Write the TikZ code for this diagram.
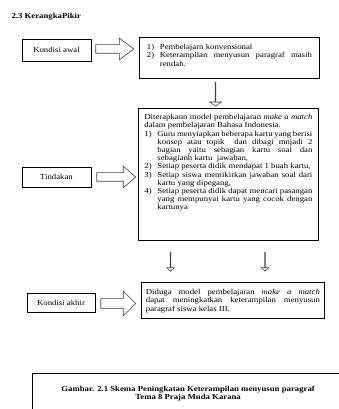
\documentclass[tikz,border=0pt]{standalone}
\usepackage{fontspec}
\newfontfamily\dfont[FakeStretch=1.15]{Liberation Serif}
\newcommand\dsize{\fontsize{7.6}{8.2}\selectfont}
\usetikzlibrary{positioning,calc,shapes.arrows}

% list item with hanging label
\newcommand\litem[1]{\par\hangindent=13pt\hangafter=1\noindent\makebox[13pt][l]{#1}\ignorespaces}
% top aligned text of fixed size
\newcommand\isi[3]{\begin{minipage}[t][#2][t]{#1}#3\end{minipage}}

\tikzset{
  labelbox/.style={draw, line width=0.8pt, inner sep=0pt, font=\dfont\dsize},
  isibox/.style={draw, line width=0.8pt, anchor=north west, inner ysep=7pt, font=\dfont\dsize},
  hollowarrow/.style={single arrow, draw=black!75, fill=white, line width=0.6pt, inner xsep=0pt, anchor=tail},
}

\begin{document}
\begin{tikzpicture}[x=1pt,y=1pt]
  \useasboundingbox (0,0) rectangle (339,409);

  \node[anchor=west, font=\dfont\dsize\bfseries] (judul) at (8,392) {2.3 KerangkaPikir};

  % kondisi awal
  \node[labelbox, minimum width=69pt, minimum height=22pt] (kawal) at (56.5,359) {Kondisi awal};
  \node[isibox, inner xsep=7.5pt] (isiawal) at (139,372) {\isi{165pt}{27pt}{%
    \litem{1)}Pembelajarn konvensional
    \litem{2)}Keterampilan menyusun paragraf masih\linebreak rendah.}};
  \node[hollowarrow, inner ysep=4pt, single arrow head extend=6.5pt, minimum height=38pt,
        single arrow tip angle=74] (a1) at ($(kawal.east)+(4,1)$) {};
  \node[hollowarrow, inner ysep=5pt, single arrow head extend=5.5pt, minimum height=24pt,
        single arrow tip angle=110, shape border rotate=270] (d1) at ($(isiawal.south west)+(76.5,-3)$) {};

  % tindakan
  \node[labelbox, minimum width=69pt, minimum height=20pt] (tindakan) at (56.5,232) {Tindakan};
  \node[isibox, inner xsep=6pt, inner ysep=6pt] (isitindakan) at (138,301) {\isi{168pt}{120pt}{%
    Diterapkann model pembelajaran \textit{make a match}\linebreak
    dalam pembelajaran Bahasa Indonesia.
    \litem{1)}Guru menyiapkan beberapa kartu yang berisi\linebreak
      konsep atau topik\ \ dan dibagi mnjadi 2\linebreak
      bagian yaitu sebagian kartu soal dan\linebreak
      sebagianh kartu\ \ jawaban,
    \litem{2)}Setiap peserta didik mendapat 1 buah kartu,
    \litem{3)}Setiap siswa memikirkan jawaban soal dari\linebreak
      kartu yang dipegang,
    \litem{4)}Setiap peserta didik dapat mencari pasangan\linebreak
      yang mempunyai kartu yang cocok dengan\linebreak
      kartunya}};
  \node[hollowarrow, inner ysep=4pt, single arrow head extend=6.5pt, minimum height=39pt,
        single arrow tip angle=82] (a2) at ($(tindakan.east)+(5,0)$) {};
  \node[hollowarrow, inner ysep=4pt, single arrow head extend=3.5pt, minimum height=19pt,
        single arrow tip angle=94, shape border rotate=270] (d2) at ($(isitindakan.south west)+(32.5,-11)$) {};
  \node[hollowarrow, inner ysep=4pt, single arrow head extend=3.5pt, minimum height=19pt,
        single arrow tip angle=94, shape border rotate=270] (d3) at ($(isitindakan.south west)+(127,-11)$) {};

  % kondisi akhir
  \node[labelbox, minimum width=68pt, minimum height=19pt] (kakhir) at (61,106.5) {Kondisi akhir};
  \node[isibox, inner xsep=4.5pt] (isiakhir) at (141,127) {\isi{174pt}{22pt}{%
    Diduga model pembelajaran \textit{make a match}\linebreak
    dapat meningkatkan keterampilan menyusun\linebreak
    paragraf siswa kelas III.}};
  \node[hollowarrow, inner ysep=4.5pt, single arrow head extend=7.5pt, minimum height=35pt,
        single arrow tip angle=90] (a3) at ($(kakhir.east)+(5,-1)$) {};

  % keterangan gambar
  \node[draw, line width=1.2pt, anchor=north west, minimum width=311pt, minimum height=40pt,
        align=center, font=\dfont\dsize\bfseries] (gambar) at (32,36)
        {Gambar. 2.1 Skema Peningkatan Keterampilan menyusun paragraf\\Tema 8 Praja Muda Karana};
\end{tikzpicture}
\end{document}
